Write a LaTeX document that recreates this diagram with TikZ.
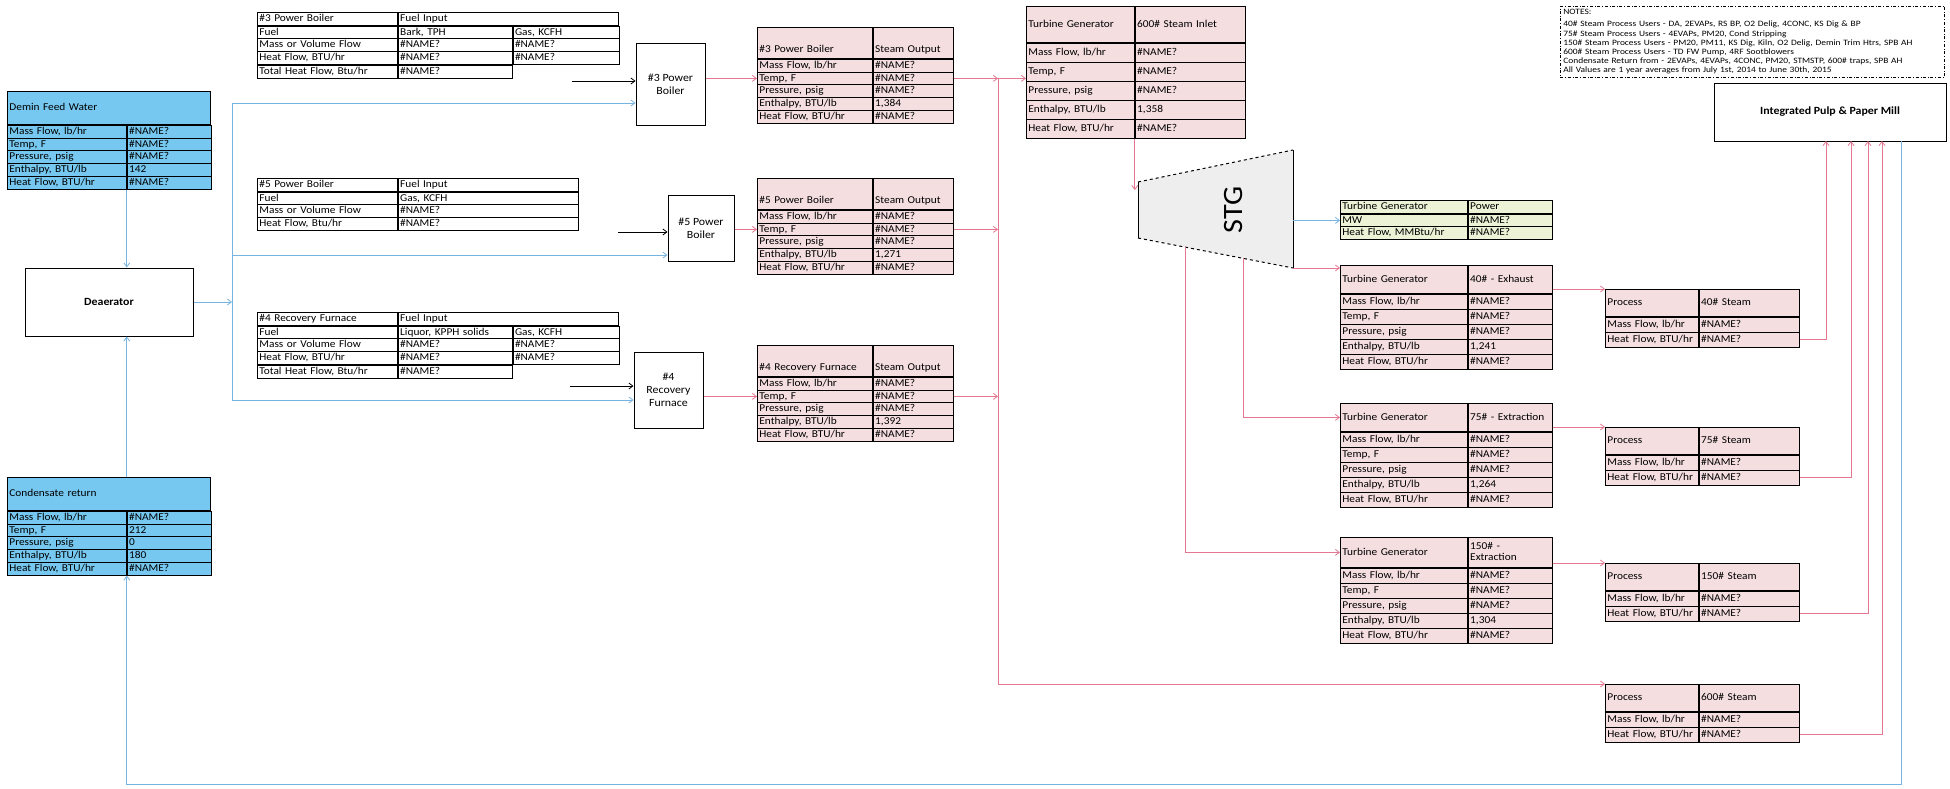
\documentclass[tikz,border=0pt]{standalone}
\usepackage{fontspec}
\setmainfont{Carlito}[FakeStretch=1.08]
\newfontfamily\notefont{Carlito}[FakeStretch=1.15]
\usetikzlibrary{positioning, arrows.meta}

\definecolor{feedblue}{RGB}{118,200,240}
\definecolor{waterline}{RGB}{120,180,225}
\definecolor{steampink}{RGB}{245,222,224}
\definecolor{steamline}{RGB}{228,120,145}
\definecolor{powergreen}{RGB}{236,242,214}
\definecolor{stggray}{RGB}{238,238,238}

\newcommand{\tabfont}{\fontsize{10.5}{11}\selectfont\hyphenpenalty=10000 }
\newcommand{\boxfont}{\fontsize{11}{13}\selectfont}
\newcommand{\rowh}{12.8}

\tikzset{
  >={Straight Barb[length=4pt,width=6pt]},
  cell/.style={draw, line width=0.8pt, anchor=north west, inner xsep=2pt, inner ysep=0pt,
    minimum height=\rowh pt, text height=7.6pt, text depth=2.4pt, align=left, font=\tabfont},
  unit/.style={draw, line width=1pt, align=center, font=\boxfont},
  water/.style={draw=waterline, line width=0.8pt},
  steam/.style={draw=steamline, line width=0.8pt},
  fuel/.style={draw=black, line width=0.8pt},
}

% header of a two column table: name, at, colour, w1, w2, options, left, right
\newcommand{\headcells}[8]{%
  \node[cell, fill=#3, text width=#4, #6] (#1) at (#2) {#7};
  \node[cell, fill=#3, text width=#5, #6] (#1-h) at (#1.north east) {#8};
}
% rows of a two column table: name, colour, w1, w2, rows
\newcommand{\bodyrows}[5]{%
  \foreach \lab/\val [count=\r] in {#5} {
    \pgfmathsetmacro\dy{-\rowh*(\r-1)}
    \node[cell, fill=#2, text width=#3] (#1-\r) at ([yshift=\dy pt]#1.south west) {\lab};
    \node[cell, fill=#2, text width=#4] (#1-v\r) at (#1-\r.north east) {\val};
  }
}
% rows of a fuel table: name, rows
\newcommand{\fuelrows}[2]{%
  \foreach \lab/\va/\vb [count=\r] in {#2} {
    \pgfmathsetmacro\dy{-\rowh*(\r-1)}
    \node[cell, fill=white, text width=136pt] (#1-\r) at ([yshift=\dy pt]#1.south west) {\lab};
    \node[cell, fill=white, text width=110pt] (#1-v\r) at (#1-\r.north east) {\va};
    \node[cell, fill=white, text width=102pt] (#1-w\r) at (#1-v\r.north east) {\vb};
  }
}

\begin{document}
\begin{tikzpicture}[x=1pt, y=-1pt]
  \fill[white] (0,0) rectangle (1950,788);
  \useasboundingbox (0,0) rectangle (1950,788);

  % water side
  \node[cell, fill=feedblue, text width=199pt, minimum height=33pt] (dfw) at (7,91) {Demin Feed Water};
  \bodyrows{dfw}{feedblue}{115pt}{80pt}{{Mass Flow, lb/hr}/\#NAME?, {Temp, F}/\#NAME?, {Pressure, psig}/\#NAME?, {Enthalpy, BTU/lb}/142, {Heat Flow, BTU/hr}/\#NAME?}
  \node[cell, fill=feedblue, text width=199pt, minimum height=33pt] (cond) at (7,477) {Condensate return};
  \bodyrows{cond}{feedblue}{115pt}{80pt}{{Mass Flow, lb/hr}/\#NAME?, {Temp, F}/212, {Pressure, psig}/0, {Enthalpy, BTU/lb}/180, {Heat Flow, BTU/hr}/\#NAME?}
  \node[unit, font=\boxfont\bfseries, minimum width=168pt, minimum height=68pt] (deaer) at (109,302) {Deaerator};

  % fuel inputs
  \headcells{f3}{257,12}{white}{136pt}{216pt}{}{\#3 Power Boiler}{Fuel Input}
  \fuelrows{f3}{{Fuel}/{Bark, TPH}/{Gas, KCFH}, {Mass or Volume Flow}/\#NAME?/\#NAME?, {Heat Flow, BTU/hr}/\#NAME?/\#NAME?}
  \node[cell, fill=white, text width=136pt] (f3-4) at (f3-3.south west) {Total Heat Flow, Btu/hr};
  \node[cell, fill=white, text width=110pt] (f3-v4) at (f3-4.north east) {\#NAME?};
  \headcells{f5}{257,178}{white}{136pt}{176pt}{}{\#5 Power Boiler}{Fuel Input}
  \bodyrows{f5}{white}{136pt}{176pt}{{Fuel}/{Gas, KCFH}, {Mass or Volume Flow}/\#NAME?, {Heat Flow, Btu/hr}/\#NAME?}
  \headcells{f4}{257,312}{white}{136pt}{216pt}{}{\#4 Recovery Furnace}{Fuel Input}
  \fuelrows{f4}{{Fuel}/{Liquor, KPPH solids}/{Gas, KCFH}, {Mass or Volume Flow}/\#NAME?/\#NAME?, {Heat Flow, BTU/hr}/\#NAME?/\#NAME?}
  \node[cell, fill=white, text width=136pt] (f4-4) at (f4-3.south west) {Total Heat Flow, Btu/hr};
  \node[cell, fill=white, text width=110pt] (f4-v4) at (f4-4.north east) {\#NAME?};

  % boilers
  \node[unit, minimum width=69pt, minimum height=82pt] (b3) at (670.5,84) {\#3 Power\\Boiler};
  \node[unit, minimum width=66pt, minimum height=66pt] (b5) at (701,228) {\#5 Power\\Boiler};
  \node[unit, minimum width=69pt, minimum height=76pt] (b4) at (668.5,390) {\#4\\Recovery\\Furnace};

  % steam outputs
  \headcells{s3}{757,27}{steampink}{111pt}{76pt}{minimum height=31pt, text height=22pt}{\#3 Power Boiler}{Steam Output}
  \bodyrows{s3}{steampink}{111pt}{76pt}{{Mass Flow, lb/hr}/\#NAME?, {Temp, F}/\#NAME?, {Pressure, psig}/\#NAME?, {Enthalpy, BTU/lb}/{1,384}, {Heat Flow, BTU/hr}/\#NAME?}
  \headcells{s5}{757,178}{steampink}{111pt}{76pt}{minimum height=31pt, text height=22pt}{\#5 Power Boiler}{Steam Output}
  \bodyrows{s5}{steampink}{111pt}{76pt}{{Mass Flow, lb/hr}/\#NAME?, {Temp, F}/\#NAME?, {Pressure, psig}/\#NAME?, {Enthalpy, BTU/lb}/{1,271}, {Heat Flow, BTU/hr}/\#NAME?}
  \headcells{s4}{757,345}{steampink}{111pt}{76pt}{minimum height=31pt, text height=22pt}{\#4 Recovery Furnace}{Steam Output}
  \bodyrows{s4}{steampink}{111pt}{76pt}{{Mass Flow, lb/hr}/\#NAME?, {Temp, F}/\#NAME?, {Pressure, psig}/\#NAME?, {Enthalpy, BTU/lb}/{1,392}, {Heat Flow, BTU/hr}/\#NAME?}

  % turbine inlet
  \renewcommand{\rowh}{19}
  \headcells{t6}{1026,6}{steampink}{104pt}{106pt}{minimum height=36pt}{Turbine Generator}{600\# Steam Inlet}
  \bodyrows{t6}{steampink}{104pt}{106pt}{{Mass Flow, lb/hr}/\#NAME?, {Temp, F}/\#NAME?, {Pressure, psig}/\#NAME?, {Enthalpy, BTU/lb}/{1,358}, {Heat Flow, BTU/hr}/\#NAME?}
  \renewcommand{\rowh}{12.8}

  % turbine
  \coordinate (stg-tl) at (1138,182);
  \coordinate (stg-tr) at (1293,150);
  \coordinate (stg-br) at (1293,268);
  \coordinate (stg-bl) at (1138,238);
  \fill[stggray] (stg-tl) -- (stg-tr) -- (stg-br) -- (stg-bl) -- cycle;
  \draw[line width=1pt] (stg-tl) -- (stg-bl) (stg-tr) -- (stg-br);
  \draw[line width=1pt, dashed] (stg-tl) -- (stg-tr) (stg-bl) -- (stg-br);
  \node[rotate=90, font=\fontsize{28}{28}\selectfont] (stg) at (1233,210) {STG};
  \coordinate (ex150) at (1185,247);
  \coordinate (ex75) at (1243,258);

  % turbine outputs
  \headcells{pw}{1340,200}{powergreen}{123pt}{80pt}{}{Turbine Generator}{Power}
  \bodyrows{pw}{powergreen}{123pt}{80pt}{{MW}/\#NAME?, {Heat Flow, MMBtu/hr}/\#NAME?}
  \renewcommand{\rowh}{15}
  \headcells{t40}{1340,265}{steampink}{123pt}{80pt}{minimum height=28pt}{Turbine Generator}{40\# - Exhaust}
  \bodyrows{t40}{steampink}{123pt}{80pt}{{Mass Flow, lb/hr}/\#NAME?, {Temp, F}/\#NAME?, {Pressure, psig}/\#NAME?, {Enthalpy, BTU/lb}/{1,241}, {Heat Flow, BTU/hr}/\#NAME?}
  \headcells{t75}{1340,403}{steampink}{123pt}{80pt}{minimum height=28pt}{Turbine Generator}{75\# - Extraction}
  \bodyrows{t75}{steampink}{123pt}{80pt}{{Mass Flow, lb/hr}/\#NAME?, {Temp, F}/\#NAME?, {Pressure, psig}/\#NAME?, {Enthalpy, BTU/lb}/{1,264}, {Heat Flow, BTU/hr}/\#NAME?}
  \node[cell, fill=steampink, text width=123pt, minimum height=30pt] (t150) at (1340,537) {Turbine Generator};
  \node[cell, fill=steampink, text width=80pt, minimum height=30pt, text height=8pt, text depth=13pt] (t150-h) at (t150.north east) {150\# -\\Extraction};
  \bodyrows{t150}{steampink}{123pt}{80pt}{{Mass Flow, lb/hr}/\#NAME?, {Temp, F}/\#NAME?, {Pressure, psig}/\#NAME?, {Enthalpy, BTU/lb}/{1,304}, {Heat Flow, BTU/hr}/\#NAME?}

  % process users
  \headcells{p40}{1605,289}{steampink}{89pt}{96pt}{minimum height=27pt}{Process}{40\# Steam}
  \bodyrows{p40}{steampink}{89pt}{96pt}{{Mass Flow, lb/hr}/\#NAME?, {Heat Flow, BTU/hr}/\#NAME?}
  \headcells{p75}{1605,427}{steampink}{89pt}{96pt}{minimum height=27pt}{Process}{75\# Steam}
  \bodyrows{p75}{steampink}{89pt}{96pt}{{Mass Flow, lb/hr}/\#NAME?, {Heat Flow, BTU/hr}/\#NAME?}
  \headcells{p150}{1605,563}{steampink}{89pt}{96pt}{minimum height=27pt}{Process}{150\# Steam}
  \bodyrows{p150}{steampink}{89pt}{96pt}{{Mass Flow, lb/hr}/\#NAME?, {Heat Flow, BTU/hr}/\#NAME?}
  \headcells{p600}{1605,684}{steampink}{89pt}{96pt}{minimum height=27pt}{Process}{600\# Steam}
  \bodyrows{p600}{steampink}{89pt}{96pt}{{Mass Flow, lb/hr}/\#NAME?, {Heat Flow, BTU/hr}/\#NAME?}
  \renewcommand{\rowh}{12.8}

  \node[unit, font=\boxfont\bfseries, minimum width=232pt, minimum height=58pt] (mill) at (1830,112) {Integrated Pulp \& Paper Mill};
  \node[draw, dash dot, line width=0.7pt, anchor=north west, text width=378pt, align=left, inner sep=3pt,
    font=\notefont\fontsize{8.2}{9.2}\selectfont] (notes) at (1560,6) {NOTES:\\[3pt]
    40\# Steam Process Users - DA, 2EVAPs, RS BP, O2 Delig, 4CONC, KS Dig \& BP\\
    75\# Steam Process Users - 4EVAPs, PM20, Cond Stripping\\
    150\# Steam Process Users - PM20, PM11, KS Dig, Kiln, O2 Delig, Demin Trim Htrs, SPB AH\\
    600\# Steam Process Users - TD FW Pump, 4RF Sootblowers\\
    Condensate Return from - 2EVAPs, 4EVAPs, 4CONC, PM20, STMSTP, 600\# traps, SPB AH\\
    *All Values are 1 year averages from July 1st, 2014 to June 30th, 2015};

  % dot
  \coordinate (fw) at (232,302);
  \coordinate (fw3) at (232,103);
  \coordinate (fw5) at (232,255);
  \coordinate (fw4) at (232,400);
  \coordinate (fa3) at (572,81);
  \coordinate (fa5) at (618,232);
  \coordinate (fa4) at (570,386);
  \coordinate (bus) at (998,77);
  \coordinate (m40) at (1826,141);
  \coordinate (m75) at (1851,141);
  \coordinate (m150) at (1868,141);
  \coordinate (m600) at (1882,141);
  \coordinate (ret) at (1901,141);
  \coordinate (retlow) at (1901,784);

  \draw[water, ->] (dfw-v5.south west) -- (dfw-v5.south west |- deaer.north);
  \draw[water, ->] (cond.north -| cond-v1.west) -- (cond-v1.west |- deaer.south);
  \draw[water, ->] (deaer.east) -- (fw);
  \draw[water] (fw3) -- (fw4);
  \draw[water, ->] (fw3) -- (fw3 -| b3.west);
  \draw[water, ->] (fw5) -- (fw5 -| b5.west);
  \draw[water, ->] (fw4) -- (fw4 -| b4.west);
  \draw[water, ->] (ret) -- (retlow) -- (retlow -| cond-v5.west) -- (cond-v5.south west);

  \draw[fuel, ->] (fa3) -- (fa3 -| b3.west);
  \draw[fuel, ->] (fa5) -- (fa5 -| b5.west);
  \draw[fuel, ->] (fa4) -- (fa4 -| b4.west);

  \draw[steam, ->] (b3.east |- s3-2) -- (s3-2.west);
  \draw[steam, ->] (b5.east |- s5-2) -- (s5-2.west);
  \draw[steam, ->] (b4.east |- s4-2) -- (s4-2.west);
  \draw[steam, ->] (s3-v2.east) -- (s3-v2.east -| bus);
  \draw[steam, ->] (s5-v2.east) -- (s5-v2.east -| bus);
  \draw[steam, ->] (s4-v2.east) -- (s4-v2.east -| bus);
  \draw[steam, ->] (s3-v2.east -| bus) -- (s3-v2.east -| t6.west);
  \draw[steam, ->] (s3-v2.east -| bus) |- (p600.north west);
  \draw[steam, ->] (t6-5.south east) -- ([yshift=-8pt]stg-tl -| t6-5.south east);

  \draw[water, ->] (stg-tr |- pw-1) -- (pw-1.west);
  \draw[steam, ->] (stg-br) -- (stg-br -| t40.west);
  \draw[steam, ->] (ex75) |- (t75.west);
  \draw[steam, ->] (ex150) |- (t150.west);
  \draw[steam, ->] (p40.north west -| t40-h.east) -- (p40.north west);
  \draw[steam, ->] (p75.north west -| t75-h.east) -- (p75.north west);
  \draw[steam, ->] (p150.north west -| t150-h.east) -- (p150.north west);

  \draw[steam, ->] (p40-v2.east) -| (m40);
  \draw[steam, ->] (p75-v2.east) -| (m75);
  \draw[steam, ->] (p150-v2.east) -| (m150);
  \draw[steam, ->] (p600-v2.east) -| (m600);
\end{tikzpicture}
\end{document}
